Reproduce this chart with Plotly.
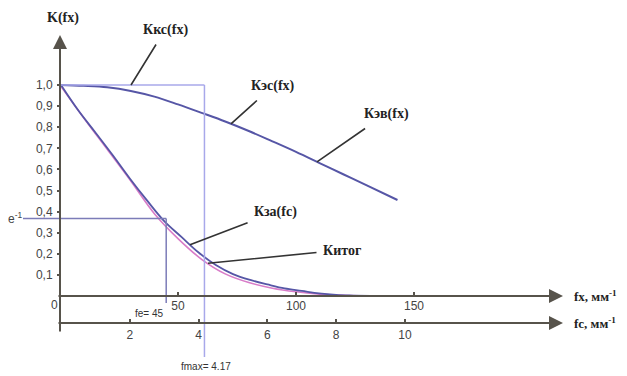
import numpy as np
import plotly.graph_objects as go

# Upper curve K(fx) (Кэс / Кэв), fx in mm^-1
fx_es = [0, 10, 20, 30, 40, 50, 60, 70, 80, 90, 100, 110, 120, 130, 143]
k_es = [1.0, 0.996, 0.989, 0.972, 0.945, 0.908, 0.868, 0.827, 0.782, 0.733,
        0.683, 0.630, 0.577, 0.524, 0.455]

# Кза(fc), fc in mm^-1
fc_za = [0, 0.5, 1.0, 1.5, 2.0, 2.5, 3.0, 3.5, 4.0, 4.5, 5.0, 5.5, 6.0,
         6.5, 7.0, 7.5, 8.0, 8.5, 9.0]
k_za = [1.0, 0.88, 0.775, 0.668, 0.557, 0.453, 0.355, 0.28, 0.206, 0.147,
        0.104, 0.076, 0.055, 0.036, 0.024, 0.012, 0.005, 0.002, 0.0]

# Resulting Китог(fx)
fx_total = [0, 10, 20, 30, 40, 50, 60, 70, 80, 90, 100, 110, 120, 130]
k_total = [1.0, 0.845, 0.695, 0.545, 0.39, 0.272, 0.174, 0.105, 0.064, 0.037,
           0.02, 0.009, 0.003, 0.0]

f_max = 4.17          # fc, mm^-1
f_e = 45              # fx, mm^-1
e_inv = float(np.exp(-1))

y_ticks = [0.1, 0.2, 0.3, 0.4, 0.5, 0.6, 0.7, 0.8, 0.9, 1.0]
y_tick_text = ["0,1", "0,2", "0,3", "0,4", "0,5", "0,6", "0,7", "0,8", "0,9", "1,0"]
fx_ticks = [50, 100, 150]
fc_ticks = [2, 4, 6, 8, 10]

# ---- page geometry (pixels) ----
W, H = 627, 376
X0, Y0 = 60, 296          # axes origin
SX = 2.36                 # px per fx unit
SC = 34.4                 # px per fc unit
XC0 = 61                  # fc origin
SY = 211                  # px per K unit


def fxp(px):
    return (px - X0) / SX


def kp(py):
    return (Y0 - py) / SY


AX = "#57534b"
CURVE = "#5656a6"
PINK = "#d87cc8"
RECT = "#a8a8ea"
ELINE = "#7c7cb8"
LEAD = "#333333"
SERIF = "'Liberation Serif', 'Times New Roman', 'DejaVu Serif', serif"
SANS = "'Liberation Sans', Arial, sans-serif"

fig = go.Figure()

fig.add_trace(go.Scatter(x=fx_total, y=k_total, mode="lines",
                         line=dict(color=PINK, width=1.6, shape="spline"),
                         hoverinfo="skip", showlegend=False))
fig.add_trace(go.Scatter(x=fc_za, y=k_za, xaxis="x2", mode="lines",
                         line=dict(color=CURVE, width=1.8, shape="spline"),
                         hoverinfo="skip", showlegend=False))
fig.add_trace(go.Scatter(x=fx_es, y=k_es, mode="lines",
                         line=dict(color=CURVE, width=2, shape="spline"),
                         hoverinfo="skip", showlegend=False))

shapes = [
    # Ккс(fx): ideal response up to fmax
    dict(type="line", xref="x2", yref="y", x0=0, x1=f_max, y0=1.0, y1=1.0,
         line=dict(color=RECT, width=1.5)),
    dict(type="line", xref="x2", yref="y", x0=f_max, x1=f_max, y0=1.0, y1=kp(357),
         line=dict(color=RECT, width=1.5)),
    # e^-1 level and fe
    dict(type="line", xref="x", yref="y", x0=fxp(23), x1=f_e, y0=e_inv, y1=e_inv,
         line=dict(color=ELINE, width=1.5)),
    dict(type="line", xref="x", yref="y", x0=f_e, x1=f_e, y0=e_inv, y1=kp(303),
         line=dict(color=ELINE, width=1.5)),
]

annotations = []


def axis_arrow(x, y, ax, ay):
    annotations.append(dict(x=x, y=y, ax=ax, ay=ay, xref="x", yref="y",
                            axref="x", ayref="y", text="", showarrow=True,
                            arrowhead=2, arrowsize=1.4, arrowwidth=2,
                            arrowcolor=AX))


axis_arrow(0, kp(35), 0, kp(333))
axis_arrow(fxp(563), 0, fxp(57), 0)
axis_arrow(fxp(563), kp(323), fxp(57), kp(323))


def text(x, y, s, size=13, font=SERIF, bold=True, xanchor="center", color="#222"):
    annotations.append(dict(x=x, y=y, xref="x", yref="y", text=f"<b>{s}</b>" if bold else s,
                            showarrow=False, xanchor=xanchor, yanchor="middle",
                            font=dict(family=font, size=size, color=color)))


def leader(s, tx, ty, px, py, xref="x"):
    annotations.append(dict(x=px, y=py, xref=xref, yref="y", ax=tx, ay=ty,
                            axref="x", ayref="y", text=f"<b>{s}</b>",
                            showarrow=True, arrowhead=0, arrowwidth=1.6,
                            arrowcolor=LEAD, borderpad=6,
                            font=dict(family=SERIF, size=14, color="#222")))


text(fxp(63), kp(18), "K(fx)", size=14)
text(fxp(572), kp(296), "fx, мм<sup>-1</sup>", size=13, xanchor="left")
text(fxp(572), kp(323), "fc, мм<sup>-1</sup>", size=13, xanchor="left")
text(fxp(15), kp(218), "e<sup>-1</sup>", size=12, font=SANS, bold=False, color="#444")
text(fxp(54), kp(305), "0", size=12, font=SANS, bold=False, color="#444")
text(fxp(149), kp(313), "fe= 45", size=10, font=SANS, bold=False, color="#333")
text(fxp(206), kp(366), "fmax= 4.17", size=10, font=SANS, bold=False, color="#333")

leader("Ккс(fx)", fxp(165), kp(30), fxp(131), 1.0)
fx_a = fxp(231)
leader("Кэс(fx)", fxp(273), kp(86), fx_a, float(np.interp(fx_a, fx_es, k_es)))
fx_b = fxp(317)
leader("Кэв(fx)", fxp(386), kp(114), fx_b, float(np.interp(fx_b, fx_es, k_es)))
fc_c = (190 - XC0) / SC
leader("Кза(fc)", fxp(262), kp(212), fc_c, float(np.interp(fc_c, fc_za, k_za)), xref="x2")
fx_d = fxp(208)
leader("Китог", fxp(342), kp(250), fx_d, float(np.interp(fx_d, fx_total, k_total)))

tickfont = dict(family=SANS, size=12, color="#444")

fig.update_layout(
    width=W, height=H,
    margin=dict(l=0, r=0, t=0, b=0),
    paper_bgcolor="white", plot_bgcolor="white",
    shapes=shapes, annotations=annotations,
    xaxis=dict(range=[fxp(0), fxp(W)], domain=[0, 1], anchor="free",
               position=(H - Y0) / H, showgrid=False, zeroline=False,
               showline=False, ticks="inside", ticklen=4, tickwidth=1.5,
               tickcolor=AX, tickvals=fx_ticks, tickfont=tickfont,
               ticklabelstandoff=1),
    xaxis2=dict(range=[(0 - XC0) / SC, (W - XC0) / SC], overlaying="x",
                anchor="free", position=(H - 323) / H, side="bottom",
                showgrid=False, zeroline=False, showline=False,
                ticks="inside", ticklen=4, tickwidth=1.5, tickcolor=AX,
                tickvals=fc_ticks, tickfont=tickfont, ticklabelstandoff=3),
    yaxis=dict(range=[kp(H), kp(0)], domain=[0, 1], anchor="free",
               position=X0 / W, showgrid=False, zeroline=False, showline=False,
               ticks="outside", ticklen=3, tickwidth=1.5, tickcolor=AX,
               tickvals=y_ticks, ticktext=y_tick_text, tickfont=tickfont,
               ticklabelstandoff=2),
)

fig.write_html("out.html")
